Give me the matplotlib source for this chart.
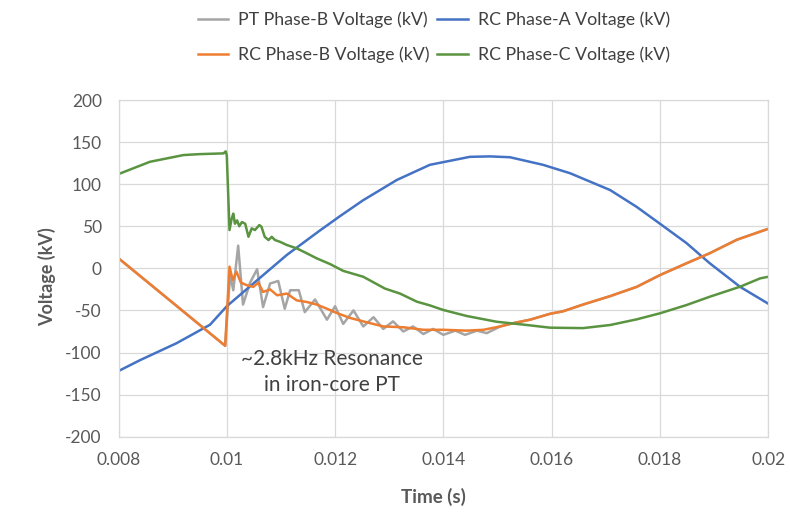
import matplotlib
matplotlib.use("Agg")
import matplotlib.pyplot as plt

plt.rcParams['font.family'] = ['Lato', 'DejaVu Sans']
plt.rcParams['axes.unicode_minus'] = False

# Time axis values (s) and voltages (kV) for each channel
t_pt_b = [0.008, 0.00997, 0.01006, 0.01012, 0.01021, 0.0103, 0.01043, 0.01056,
          0.01067, 0.0108, 0.01095, 0.01107, 0.01117, 0.01133, 0.01144, 0.01163,
          0.01185, 0.01200, 0.01215, 0.01234, 0.01252, 0.01271, 0.01289, 0.01307,
          0.01326, 0.01344, 0.01363, 0.01381, 0.014, 0.01422, 0.0144, 0.01462,
          0.0148, 0.01505, 0.0153, 0.0156, 0.01597, 0.01621, 0.01658, 0.01708,
          0.01757, 0.018, 0.01849, 0.01892, 0.01942, 0.02]
v_pt_b = [12, -92, -8, -26, 27, -43, -17, -1,
          -46, -18, -15, -48, -26, -26, -52, -37,
          -61, -45, -66, -50, -69, -58, -72, -63,
          -75, -69, -78, -72, -79, -74, -79, -74,
          -77, -69, -65, -61, -54, -51, -43, -33,
          -22, -8, 6, 18, 34, 47]

t_rc_a = [0.008, 0.0084, 0.00907, 0.00969, 0.0100, 0.01049, 0.01111, 0.01172,
          0.01209, 0.01252, 0.01314, 0.01375, 0.01449, 0.01486, 0.01523, 0.01584,
          0.01634, 0.01708, 0.01757, 0.018, 0.01849, 0.01892, 0.01948, 0.02]
v_rc_a = [-122, -109, -89, -67, -45, -18, 16, 45,
          62, 81, 105, 123, 132.5, 133, 132, 123,
          113, 93, 73, 53, 30, 6, -22, -42]

t_rc_b = [0.008, 0.00997, 0.01005, 0.01011, 0.01018, 0.01026, 0.01037, 0.01049,
          0.01058, 0.01067, 0.0108, 0.01093, 0.01111, 0.01129, 0.01148, 0.01166,
          0.01185, 0.01203, 0.01228, 0.01264, 0.01289, 0.01326, 0.01363, 0.014,
          0.01443, 0.01474, 0.01505, 0.0153, 0.0156, 0.01597, 0.01621, 0.01658,
          0.01708, 0.01757, 0.018, 0.01849, 0.01892, 0.01942, 0.02]
v_rc_b = [12, -92, 2, -14, -4, -17, -20, -22,
          -17, -28, -25, -32, -30, -38, -40, -43,
          -48, -53, -59, -65, -69, -70, -73, -73,
          -74, -73, -69, -65, -61, -54, -51, -43,
          -33, -22, -8, 6, 18, 34, 47]

t_rc_c = [0.008, 0.00858, 0.0092, 0.0095, 0.00994, 0.00998, 0.0100, 0.01005,
          0.01009, 0.01012, 0.01015, 0.01019, 0.01023, 0.01028, 0.01034, 0.0104,
          0.01046, 0.01052, 0.0106, 0.01064, 0.0107, 0.01077, 0.01083, 0.01089,
          0.01098, 0.01111, 0.01129, 0.01148, 0.01166, 0.01191, 0.01215, 0.01252,
          0.01292, 0.0132, 0.01351, 0.01375, 0.014, 0.01443, 0.01498, 0.01554,
          0.01597, 0.01658, 0.01708, 0.01757, 0.018, 0.01849, 0.01892, 0.01948,
          0.01985, 0.02]
v_rc_c = [112, 126.6, 134.6, 135.7, 136.6, 139, 134, 45.5,
          59, 65, 53, 57, 50, 55, 53, 37.5,
          47.5, 45.5, 51.4, 49.5, 37.5, 33.6, 37.5, 33.6,
          31.6, 27.7, 23.8, 17.8, 11.9, 5, -3, -10,
          -24, -30, -39.6, -44, -49.5, -56.6, -63.4, -67.3,
          -70.5, -71, -67.3, -60.6, -53.4, -43.6, -33.7, -21.8,
          -11.9, -10]

x_ticks = [0.008, 0.010, 0.012, 0.014, 0.016, 0.018, 0.020]
x_tick_labels = ["0.008", "0.01", "0.012", "0.014", "0.016", "0.018", "0.02"]
y_ticks = [-200, -150, -100, -50, 0, 50, 100, 150, 200]

series_labels = ["PT Phase-B Voltage (kV)", "RC Phase-A Voltage (kV)",
                 "RC Phase-B Voltage (kV)", "RC Phase-C Voltage (kV)"]
series_colors = ["#A5A5A5", "#4472C4", "#ED7D31", "#5A9440"]

fig = plt.figure(figsize=(7.9, 5.19), dpi=100)
ax = fig.add_axes([0.15, 0.1586, 0.8225, 0.6487])

lw = 1.8
h_pt, = ax.plot(t_pt_b, v_pt_b, color=series_colors[0], lw=lw, label=series_labels[0])
h_a, = ax.plot(t_rc_a, v_rc_a, color=series_colors[1], lw=lw, label=series_labels[1])
h_b, = ax.plot(t_rc_b, v_rc_b, color=series_colors[2], lw=lw, label=series_labels[2])
h_c, = ax.plot(t_rc_c, v_rc_c, color=series_colors[3], lw=lw, label=series_labels[3])

ax.set_xlim(x_ticks[0], x_ticks[-1])
ax.set_ylim(y_ticks[0], y_ticks[-1])
ax.set_xticks(x_ticks)
ax.set_xticklabels(x_tick_labels)
ax.set_yticks(y_ticks)
ax.grid(True, color="#D9D9D9", lw=0.9)
ax.set_axisbelow(True)
for s in ax.spines.values():
    s.set_color("#D9D9D9")
    s.set_linewidth(0.9)
ax.tick_params(length=0, labelsize=12.5, colors="#595959")
ax.tick_params(axis="y", pad=12)
ax.tick_params(axis="x", pad=11)

ax.set_xlabel("Time (s)", fontsize=13.5, fontweight="bold", color="#595959")
ax.set_ylabel("Voltage (kV)", fontsize=13, fontweight="bold", color="#595959")
ax.xaxis.set_label_coords(0.484, -0.179)
ax.xaxis.label.set_va("center")
ax.yaxis.set_label_coords(-0.1105, 0.475)
ax.yaxis.label.set_va("center")

ax.text(0.01194, -123, "~2.8kHz Resonance\nin iron-core PT", ha="center", va="center",
        multialignment="center", fontsize=15, color="#404040", linespacing=1.35)

fig.legend([h_pt, h_b, h_a, h_c],
           [series_labels[0], series_labels[2], series_labels[1], series_labels[3]],
           ncol=2, loc="center", bbox_to_anchor=(0.549, 0.928), frameon=False,
           fontsize=12.8, labelcolor="#404040", handlelength=1.7, handletextpad=0.56,
           columnspacing=0.45, labelspacing=1.0)

fig.savefig("out.png", dpi=100, facecolor="white")
